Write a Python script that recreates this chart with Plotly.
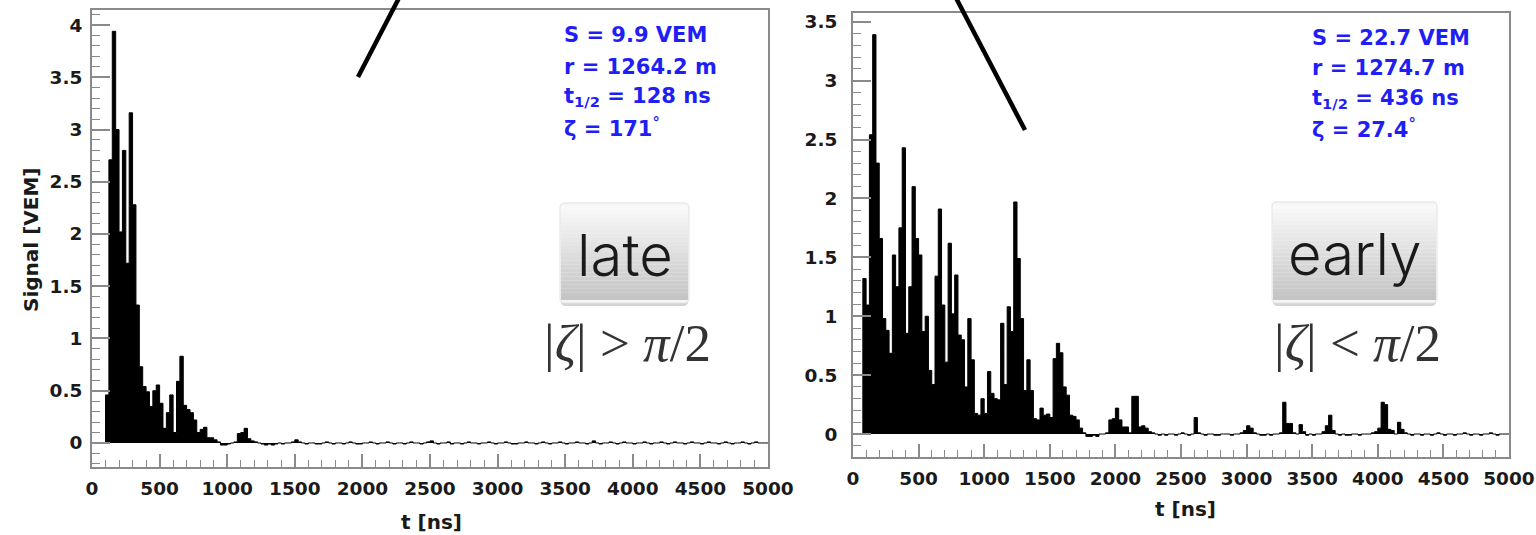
import plotly.graph_objects as go

# FADC traces of two detector stations, 25 ns bins starting at t = 0
BIN_NS = 25

late_signal = [
    0.0, 0.0, 0.0, 0.0,
    0.46, 2.71, 3.94, 3.00, 2.02, 2.80, 1.72, 3.16, 2.28, 1.32, 0.73, 0.54, 0.49, 0.35, 0.50, 0.555,
    0.38, 0.14, 0.29, 0.46, 0.10, 0.59, 0.83, 0.36, 0.32, 0.29, 0.22, 0.10, 0.13, 0.15, 0.05, 0.05,
    0.03, 0.01,
    -0.02, -0.02, -0.01, 0.0, 0.01, 0.09, 0.10, 0.14, 0.04, 0.02, 0.01, 0.0, -0.01, -0.02, -0.01, -0.02,
    -0.01, 0.0, -0.01, 0.0, 0.0, 0.01, 0.03, 0.01,
    0.0, -0.01, 0.0, 0.0, -0.01, -0.01, 0.0, 0.01, 0.0, -0.01, 0.0, 0.0, -0.01, 0.0, 0.01, 0.0, -0.01, -0.01, 0.0, 0.0,
    0.01, 0.0, -0.01, 0.0, 0.0, 0.01, 0.0, -0.01, 0.0, 0.0, -0.01, 0.0, 0.01, 0.0, 0.0, -0.01, 0.0, 0.01, 0.02, 0.0,
    -0.01, 0.0, 0.0, 0.01, -0.01, 0.0, 0.0, -0.01, 0.0, 0.01, 0.0, 0.0, -0.01, 0.0, 0.0, 0.01, 0.0, -0.01, 0.0, 0.0,
    0.01, 0.0, -0.01, -0.01, 0.0, 0.0, 0.01, 0.0, 0.0, -0.01, 0.0, 0.01, 0.0, -0.01, 0.0, 0.0, 0.01, 0.0, -0.01, 0.0,
    0.0, 0.01, 0.0, 0.0, -0.01, 0.0, 0.02, 0.0, -0.01, 0.0, 0.0, 0.01, 0.0, -0.01, 0.0, 0.01, 0.0, 0.0, -0.01, 0.0,
    0.0, 0.01, 0.0, -0.01, 0.0, 0.0, 0.01, 0.0, -0.01, 0.0, 0.01, 0.0, 0.0, -0.01, 0.0, 0.01, 0.0, 0.0, -0.01, 0.0,
    0.01, 0.0, 0.0, -0.01, 0.0, 0.01, 0.0, -0.01, 0.0, 0.0, 0.01, 0.0, -0.01, 0.0, 0.01, 0.0, 0.0, 0.0,
]

early_signal = [
    0.0, 0.0, 0.0,
    1.32, 1.095, 2.54, 3.39, 2.30, 1.66, 0.98, 0.88, 0.685, 1.52, 1.25, 1.75, 2.43, 0.855, 1.25, 2.10,
    1.66, 1.52, 0.87, 1.00, 0.54, 0.42, 1.34, 1.91, 1.095, 0.61, 1.62, 1.02, 1.35, 0.84, 0.80, 0.40,
    0.98, 0.63, 0.175, 0.16, 0.30, 0.175, 0.53, 0.345, 0.30, 0.29, 0.94, 0.42, 1.08, 0.87, 1.97, 1.49,
    0.98, 0.37, 0.63, 0.37, 0.13, 0.12, 0.22, 0.16, 0.17, 0.14, 0.64, 0.77, 0.69, 0.40, 0.33, 0.16,
    0.15, 0.12, 0.05,
    0.01, -0.02, -0.02, -0.01, -0.02, 0.0, 0.0, 0.01,
    0.12, 0.13, 0.22, 0.12, 0.06, 0.06, 0.01, 0.32, 0.32, 0.06, 0.07, 0.05, 0.02, 0.01,
    0.0, -0.01, 0.0, -0.01, 0.0, 0.0, -0.01, 0.0, 0.01, 0.0, -0.01, 0.0,
    0.14,
    0.01, 0.0, -0.01, 0.0, 0.0, -0.01, -0.01, 0.0, 0.0, 0.0, -0.01, 0.0, 0.0, 0.01, 0.03,
    0.07, 0.05,
    0.01, 0.0, -0.01, -0.01, 0.0, -0.01, 0.0, 0.0, 0.01,
    0.27, 0.09, 0.09, 0.01, 0.0, 0.08, 0.02,
    -0.01, 0.0, -0.01, 0.0, 0.0, 0.02,
    0.07, 0.16, 0.03,
    0.0, -0.01, 0.0, -0.01, -0.01, 0.0, 0.0, -0.01, 0.0, 0.0, 0.0, 0.01, 0.02,
    0.05, 0.27, 0.25, 0.04, 0.03,
    0.0, 0.10, 0.04, 0.01,
    0.0, -0.01, 0.0, 0.0, -0.01, 0.0, 0.0, -0.01, 0.0, 0.01, 0.0, -0.01, 0.0, 0.0, -0.01, 0.0,
    0.0, 0.01, 0.0, -0.01, 0.0, 0.0, -0.01, 0.0, 0.0, 0.01, 0.0, -0.01, 0.0, 0.0, 0.0,
]

late_info = ["S = 9.9 VEM", "r = 1264.2 m", "t<sub>1/2</sub> = 128 ns", "ζ = 171<sup>°</sup>"]
early_info = ["S = 22.7 VEM", "r = 1274.7 m", "t<sub>1/2</sub> = 436 ns", "ζ = 27.4<sup>°</sup>"]

W, H = 1536, 535


def px(x, y):
    """pixel position -> paper coordinates"""
    return x / W, 1 - y / H


def step_trace(values, xa, ya):
    edges = [BIN_NS * i for i in range(len(values) + 1)]
    return go.Scatter(
        x=edges, y=list(values) + [values[-1]],
        xaxis=xa, yaxis=ya, mode="lines", line_shape="hv",
        line=dict(color="black", width=1), fill="tozeroy", fillcolor="black",
        showlegend=False, hoverinfo="skip",
    )


fig = go.Figure()
fig.add_trace(step_trace(late_signal, "x", "y"))
fig.add_trace(step_trace(early_signal, "x2", "y2"))

FRAME = "#8a8a8a"
TICKFONT = dict(family="DejaVu Sans", size=18.5, color="#1a1a1a", weight="bold")


def xaxis(domain):
    return dict(
        domain=domain, range=[0, 5000], tick0=0, dtick=500,
        ticks="inside", ticklen=13, tickwidth=1.5, tickcolor=FRAME,
        minor=dict(dtick=100, ticks="inside", ticklen=7, tickwidth=1, tickcolor=FRAME, showgrid=False),
        showline=True, linecolor=FRAME, linewidth=2, mirror=True,
        showgrid=False, zeroline=False, tickfont=TICKFONT, ticklabelstandoff=4,
    )


def yaxis(domain, rng, anchor, standoff):
    return dict(
        domain=domain, range=rng, tick0=0, dtick=0.5, anchor=anchor,
        ticks="inside", ticklen=18, tickwidth=1.5, tickcolor=FRAME,
        minor=dict(dtick=0.1, ticks="inside", ticklen=8, tickwidth=1, tickcolor=FRAME, showgrid=False),
        showline=True, linecolor=FRAME, linewidth=2, mirror=True,
        showgrid=False, zeroline=False, tickfont=TICKFONT, ticklabelstandoff=standoff,
    )


annotations = []
shapes = []

# axis titles
for x, y, txt, ang in [(31, 240, "Signal [VEM]", -90), (431, 522, "t [ns]", 0), (1185, 509, "t [ns]", 0)]:
    ax_, ay_ = px(x, y)
    annotations.append(dict(x=ax_, y=ay_, xref="paper", yref="paper", text=txt, textangle=ang,
                            showarrow=False, xanchor="center", yanchor="middle",
                            font=dict(family="DejaVu Sans", size=20, color="#1a1a1a", weight="bold")))

# station parameters in blue
for x0, ys, lines in [(562, [35, 66.5, 97.5, 127.5], late_info), (1310, [38, 68.5, 99, 128], early_info)]:
    for y, txt in zip(ys, lines):
        ax_, ay_ = px(x0, y)
        annotations.append(dict(x=ax_, y=ay_, xref="paper", yref="paper", text=txt, showarrow=False,
                                xanchor="left", yanchor="middle",
                                font=dict(family="DejaVu Sans", size=21, color="#1e1ef5", weight="bold")))


def rounded_rect(x0, y0, x1, y1, r):
    """SVG path of a rounded rectangle, pixel corners converted to paper coords"""
    pts = []
    for (cx, cy, a0) in [(x1 - r, y0 + r, -90), (x1 - r, y1 - r, 0), (x0 + r, y1 - r, 90), (x0 + r, y0 + r, 180)]:
        for k in range(5):
            import math
            a = math.radians(a0 + 22.5 * k)
            pts.append(px(cx + r * math.cos(a), cy + r * math.sin(a)))
    return "M " + " L ".join("%.6f,%.6f" % p for p in pts) + " Z"


# keynote-style labels with gradient buttons
for (bx0, by0, bx1, by1), word, math_txt in [((560, 203, 689, 303), "late", "|<i>ζ</i>| &gt; <i>π</i>/2"),
                                              ((1272, 202, 1437, 303), "early", "|<i>ζ</i>| &lt; <i>π</i>/2")]:
    # soft shadow under the button
    shapes.append(dict(type="path", xref="paper", yref="paper", path=rounded_rect(bx0 + 1, by0 + 3, bx1 - 1, by1 + 3, 4),
                       fillcolor="#d4d4d4", line=dict(width=0), layer="above"))
    shapes.append(dict(type="path", xref="paper", yref="paper", path=rounded_rect(bx0, by0, bx1, by1, 4),
                       fillcolor="#f6f6f6", line=dict(color="#e2e2e2", width=1), layer="above"))
    n = 24
    top, bot = (249, 249, 249), (196, 196, 196)
    for i in range(n):
        f = i / (n - 1)
        c = tuple(round(top[k] + (bot[k] - top[k]) * f) for k in range(3))
        ya = by0 + 3 + (by1 - by0 - 6) * i / n
        yb = by0 + 3 + (by1 - by0 - 6) * (i + 1) / n
        p0 = px(bx0 + 1, yb)
        p1 = px(bx1 - 1, ya)
        shapes.append(dict(type="rect", xref="paper", yref="paper", x0=p0[0], y0=p0[1], x1=p1[0], y1=p1[1],
                           fillcolor="rgb(%d,%d,%d)" % c, line=dict(width=0), layer="above"))
    cx, cy = px((bx0 + bx1) / 2, (by0 + by1) / 2 + 2)
    annotations.append(dict(x=cx, y=cy, xref="paper", yref="paper", text=word, showarrow=False,
                            xanchor="center", yanchor="middle",
                            font=dict(family="Inter", size=58, color="#1a1a1a", weight=300)))
    mx, my = px((bx0 + bx1) / 2 + 3, by1 + 40)
    annotations.append(dict(x=mx, y=my, xref="paper", yref="paper", text=math_txt, showarrow=False,
                            xanchor="center", yanchor="middle",
                            font=dict(family="Liberation Serif", size=53, color="#333333")))

# pointer lines coming from above
for (x0, y0), (x1, y1) in [((400, -4), (358, 77)), ((955, -4), (1025, 130))]:
    p0 = px(x0, y0)
    p1 = px(x1, y1)
    shapes.append(dict(type="line", xref="paper", yref="paper", x0=p0[0], y0=p0[1], x1=p1[0], y1=p1[1],
                       line=dict(color="black", width=4.5), layer="above"))

fig.update_layout(
    width=W, height=H, margin=dict(l=0, r=0, t=0, b=0),
    paper_bgcolor="white", plot_bgcolor="white", template="none",
    xaxis=dict(xaxis([92 / W, 768 / W]), anchor="y"),
    yaxis=yaxis([1 - 467 / H, 1 - 10 / H], [-0.23, 4.144], "x", 4),
    xaxis2=dict(xaxis([853 / W, 1509 / W]), anchor="y2"),
    yaxis2=yaxis([1 - 457 / H, 1 - 13 / H], [-0.195, 3.574], "x2", 10),
    annotations=annotations, shapes=shapes, showlegend=False,
)

fig.write_html("out.html")
